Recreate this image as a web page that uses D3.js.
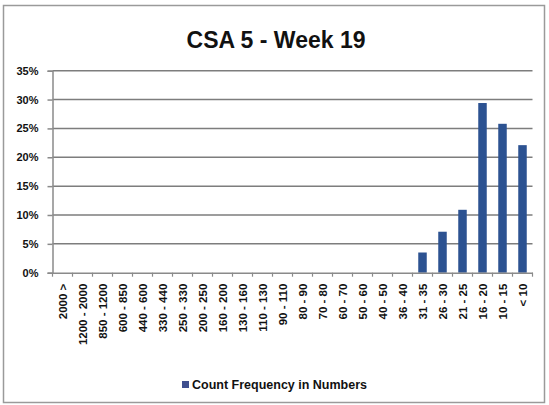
<!DOCTYPE html>
<html>
<head>
<meta charset="utf-8">
<script src="https://cdn.jsdelivr.net/npm/d3@7"></script>
<style>
  html, body { margin: 0; padding: 0; background: #fff; }
  svg { display: block; }
</style>
</head>
<body>
<svg id="chart" width="549" height="405"></svg>
<script>
const categories = ["2000 >", "1200 - 2000", "850 - 1200", "600 - 850", "440 - 600", "330 - 440",
  "250 - 330", "200 - 250", "160 - 200", "130 - 160", "110 - 130", "90 - 110", "80 - 90",
  "70 - 80", "60 - 70", "50 - 60", "40 - 50", "36 - 40", "31 - 35", "26 - 30", "21 - 25",
  "16 - 20", "10 - 15", "< 10"];
const values = [0, 0, 0, 0, 0, 0, 0, 0, 0, 0, 0, 0, 0, 0, 0, 0, 0, 0,
  0.035, 0.071, 0.109, 0.294, 0.258, 0.221];
const yTicks = [0, 0.05, 0.10, 0.15, 0.20, 0.25, 0.30, 0.35];
const title = "CSA 5 - Week 19";
const seriesName = "Count Frequency in Numbers";

const svg = d3.select("#chart");
const font = "'Liberation Sans', Arial, sans-serif";

// outer frame
svg.append("rect").attr("x", 3.5).attr("y", 5.5).attr("width", 541).attr("height", 397)
  .attr("fill", "#fff").attr("stroke", "#9a9a9a").attr("stroke-width", 1.5);

const plot = { left: 52.5, right: 532.5, top: 70.7, bottom: 272.7 };

const x = d3.scaleBand().domain(categories).range([plot.left, plot.right]).paddingInner(0).paddingOuter(0);
const y = d3.scaleLinear().domain([0, 0.35]).range([plot.bottom, plot.top]);

// title
svg.append("text").attr("x", 276).attr("y", 48).attr("text-anchor", "middle")
  .style("font-family", font).style("font-weight", "bold").style("font-size", "23px")
  .attr("fill", "#111").text(title);

// gridlines
svg.append("g").selectAll("line").data(yTicks.filter(d => d > 0)).join("line")
  .attr("x1", plot.left).attr("x2", plot.right)
  .attr("y1", d => y(d)).attr("y2", d => y(d))
  .attr("stroke", "#7d7d7d").attr("stroke-width", 1.5);

// y axis
const yAxis = d3.axisLeft(y).tickValues(yTicks).tickFormat(d3.format(".0%")).tickSize(5).tickPadding(9);
const gy = svg.append("g").attr("transform", `translate(${plot.left},0)`).call(yAxis);
gy.select(".domain").attr("stroke", "#8a8a8a").attr("stroke-width", 1.5);
gy.selectAll(".tick line").attr("stroke", "#8a8a8a").attr("stroke-width", 1.5);
gy.selectAll("text").style("font-family", font).style("font-weight", "bold")
  .style("font-size", "11px").attr("fill", "#111");

// bars
const barW = 8.5;
svg.append("g").selectAll("rect").data(categories.map((c, i) => ({ c, v: values[i] })).filter(d => d.v > 0))
  .join("rect")
  .attr("x", d => x(d.c) + x.bandwidth() / 2 - barW / 2)
  .attr("width", barW)
  .attr("y", d => y(d.v))
  .attr("height", d => y(0) - y(d.v))
  .attr("fill", "#2c5291");

// x axis
const xAxis = d3.axisBottom(x).tickSize(0).tickPadding(0);
const gx = svg.append("g").attr("transform", `translate(0,${plot.bottom})`).call(xAxis);
gx.select(".domain").attr("stroke", "#8a8a8a").attr("stroke-width", 1.5);
gx.selectAll(".bnd").data(d3.range(categories.length + 1)).join("line")
  .attr("class", "bnd")
  .attr("x1", i => plot.left + i * x.step()).attr("x2", i => plot.left + i * x.step())
  .attr("y1", 0).attr("y2", 4).attr("stroke", "#8a8a8a").attr("stroke-width", 1.2);
gx.selectAll(".tick text")
  .style("font-family", font).style("font-weight", "bold").style("font-size", "11.5px")
  .attr("fill", "#111")
  .attr("text-anchor", "end")
  .attr("dy", "0.35em")
  .attr("transform", "translate(0,11) rotate(-90)")
  .attr("x", 0).attr("y", 0);

// legend
const lg = svg.append("g").attr("transform", "translate(182,385)");
lg.append("rect").attr("x", 0).attr("y", -4).attr("width", 7).attr("height", 7).attr("fill", "#3f4f8f");
lg.append("text").attr("x", 10).attr("y", 0).attr("dy", "0.35em")
  .style("font-family", font).style("font-weight", "bold").style("font-size", "12.5px")
  .attr("fill", "#111").text(seriesName);
</script>
</body>
</html>
